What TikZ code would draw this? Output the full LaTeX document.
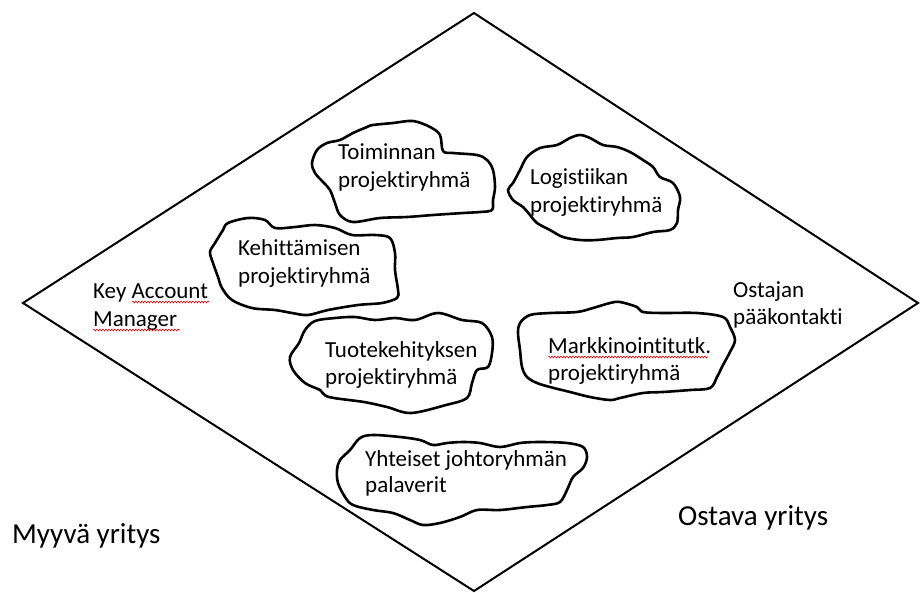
\documentclass[tikz,border=0pt]{standalone}
\usepackage{fontspec}
\setmainfont{Carlito}[Ligatures={NoCommon}]
\usetikzlibrary{decorations.pathmorphing}
\begin{document}
\begin{tikzpicture}[x=1pt,y=-1pt,
  diam/.style={draw=black,line width=2pt,line join=miter},
  cloudline/.style={draw=black,line width=2.6pt,line join=round},
  txt/.style={inner sep=0pt,anchor=base west,font=\fontsize{23}{28}\selectfont},
  big/.style={inner sep=0pt,anchor=base west,font=\fontsize{29}{34}\selectfont},
  squig/.style={draw=red!85!black,line width=0.6pt,decorate,
     decoration={snake,amplitude=0.9pt,segment length=3pt}}]
\useasboundingbox (0,0) rectangle (920,592);
\fill[white] (0,0) rectangle (920,592);

% diamond
\coordinate (T) at (474,13);
\coordinate (R) at (918,303);
\coordinate (B) at (474,591);
\coordinate (L) at (23,303);
\draw[diam] (T) -- (R) -- (B) -- (L) -- cycle;

% Toiminnan cloud
\draw[cloudline] plot[smooth cycle,tension=0.55] coordinates {
 (373,125) (393,123) (413,121) (430,127) (440,135) (443,151) (453,153)
 (477,155) (487,160) (493,170) (495,187) (493,200) (492,210) (480,212)
 (463,213) (433,215) (407,217) (380,218) (353,222) (340,215) (335,203)
 (330,190) (323,182) (315,173) (312,163) (317,150) (327,143) (340,140)
 (353,133) (367,127)};

% Logistiikan cloud
\draw[cloudline] plot[smooth cycle,tension=0.55] coordinates {
 (527,157) (540,148) (557,145) (570,138) (580,135) (590,138) (603,145)
 (617,147) (630,152) (643,160) (653,167) (660,177) (673,183) (680,197)
 (678,210) (677,223) (670,230) (653,232) (633,237) (617,238) (597,240)
 (580,240) (563,237) (550,230) (537,223) (530,215) (523,207) (513,200)
 (508,190) (513,183) (520,170)};

% Kehittamisen cloud
\draw[cloudline] plot[smooth cycle,tension=0.55] coordinates {
 (228,223) (248,218) (265,220) (275,228) (295,227) (315,225) (335,228)
 (352,235) (375,235) (390,238) (395,253) (395,270) (398,290) (397,298)
 (382,303) (358,305) (328,310) (308,315) (292,313) (275,310) (252,308)
 (232,300) (222,288) (218,277) (213,263) (210,252) (215,243) (223,230)};

% Tuotekehityksen cloud
\draw[cloudline] plot[smooth cycle,tension=0.55] coordinates {
 (315,321) (335,318) (355,317) (375,320) (395,318) (415,320) (438,313)
 (462,320) (482,323) (492,337) (492,353) (488,367) (477,370) (472,383)
 (467,398) (446,405) (411,413) (387,407) (364,402) (329,397) (320,390)
 (305,383) (293,370) (290,357) (299,343) (305,330)};

% Markkinointitutk cloud
\draw[cloudline] plot[smooth cycle,tension=0.55] coordinates {
 (520,323) (530,315) (550,313) (577,312) (593,308) (610,303) (620,302)
 (637,307) (643,312) (663,313) (697,313) (723,317) (730,327) (735,340)
 (730,352) (723,365) (717,377) (710,388) (690,390) (663,392) (643,393)
 (620,398) (610,400) (590,397) (570,392) (550,387) (537,383) (527,377)
 (522,367) (520,350) (518,333)};

% Yhteiset cloud
\draw[cloudline] plot[smooth cycle,tension=0.55] coordinates {
 (360,438) (373,435) (400,437) (420,440) (433,445) (447,443) (463,442)
 (480,443) (500,447) (520,443) (540,442) (567,443) (583,447) (587,457)
 (583,468) (573,477) (567,490) (560,502) (547,505) (527,507) (500,510)
 (477,510) (460,517) (440,523) (423,525) (410,520) (393,513) (373,510)
 (353,505) (345,497) (338,483) (337,470) (340,460) (350,450)};

% texts
\node[txt] (toim1) at (338,159) {Toiminnan};
\node[txt] (toim2) at (338,187) {projektiryhmä};
\node[txt] (logi1) at (530,184) {Logistiikan};
\node[txt] (logi2) at (530,212) {projektiryhmä};
\node[txt] (kehi1) at (238,255) {Kehittämisen};
\node[txt] (kehi2) at (238,283) {projektiryhmä};
\node[txt] (tuot1) at (325,357) {Tuotekehityksen};
\node[txt] (tuot2) at (325,384) {projektiryhmä};
\node[txt] (mark1) at (548,353) {Markkinointitutk.};
\node[txt] (mark2) at (548,380) {projektiryhmä};
\node[txt] (yht1) at (365,466) {Yhteiset johtoryhmän};
\node[txt] (yht2) at (365,492) {palaverit};
\node[txt] (kam1) at (93,298) {Key Account};
\node[txt] (kam2) at (93,326) {Manager};
\node[txt] (ost1) at (733,297) {Ostajan};
\node[txt] (ost2) at (733,324) {pääkontakti};
\node[big] (myy) at (12,543) {Myyvä yritys};
\node[big] (osta) at (678,525) {Ostava yritys};

% spell-check squiggles
\coordinate (s1a) at (132,302);
\coordinate (s1b) at (209,302);
\coordinate (s2a) at (93,330);
\coordinate (s2b) at (180,330);
\coordinate (s3a) at (548,357);
\coordinate (s3b) at (708,357);
\draw[squig] (s1a) -- (s1b);
\draw[squig] (s2a) -- (s2b);
\draw[squig] (s3a) -- (s3b);
\end{tikzpicture}
\end{document}
